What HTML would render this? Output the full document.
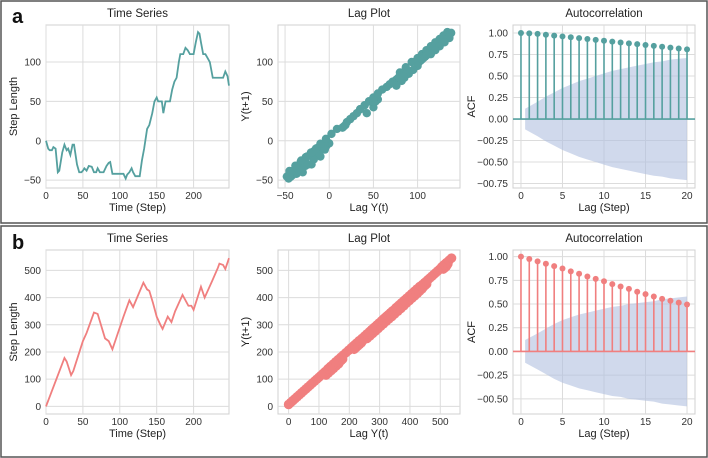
<!DOCTYPE html>
<html><head><meta charset="utf-8"><style>
body{margin:0;background:#fff}
svg{display:block;font-family:"Liberation Sans",sans-serif}
</style></head><body>
<svg id="c" width="708" height="458" viewBox="0 0 708 458"></svg>
<script>
// ---- data ----
const tsA_steps=[0,3,5,8,10,13,16,18,22,25,28,30,33,36,38,42,45,48,50,52,55,58,62,65,68,70,73,78,82,85,87,90,100,105,108,110,113,116,118,121,127,130,133,137,140,144,147,150,152,157,159,162,168,171,174,177,180,182,186,189,192,195,200,203,206,208,210,213,216,219,222,224,226,240,243,246,248];
const tsA_vals=[0,-10,-12,-12,-8,-10,-40,-38,-15,-5,-12,-10,-18,-5,-5,-30,-40,-40,-38,-35,-38,-32,-33,-40,-40,-35,-40,-40,-32,-28,-27,-42,-42,-42,-48,-43,-40,-35,-40,-45,-45,-25,-10,15,20,35,50,55,50,50,35,50,50,65,75,80,100,110,110,118,115,110,110,125,138,136,125,110,110,105,100,90,80,80,88,82,70];
const tsB_steps=[0,25,28,34,37,50,55,65,70,80,85,90,95,105,113,118,125,132,137,140,145,150,155,158,165,170,175,185,190,193,197,200,210,215,225,233,235,240,243,248];
const tsB_vals=[0,178,165,115,130,240,270,345,340,250,240,210,250,330,390,365,410,455,430,425,380,330,300,285,330,310,350,410,385,370,370,355,440,400,460,510,525,520,505,545];
const acfA=[1,0.995,0.99,0.98,0.97,0.96,0.95,0.94,0.93,0.92,0.91,0.90,0.89,0.88,0.87,0.86,0.85,0.84,0.83,0.82,0.81];
const bandA=[0,0.12,0.2,0.26,0.31,0.36,0.4,0.44,0.47,0.5,0.53,0.56,0.58,0.6,0.62,0.64,0.66,0.67,0.69,0.70,0.71];
const acfB=[1,0.975,0.95,0.925,0.9,0.875,0.845,0.82,0.79,0.765,0.74,0.71,0.685,0.66,0.63,0.605,0.58,0.555,0.535,0.515,0.495];
const bandB=[0,0.12,0.19,0.24,0.29,0.33,0.36,0.39,0.41,0.43,0.45,0.47,0.48,0.5,0.51,0.52,0.53,0.55,0.56,0.57,0.58];
const ticksTsX=[0,50,100,150,200];
const ticksA_Y=[-50,0,50,100];
const ticksLagAX=[-50,0,50,100];
const ticksB_Y=[0,100,200,300,400,500];
const ticksACFX=[0,5,10,15,20];
const ticksACFA=[-0.75,-0.5,-0.25,0,0.25,0.5,0.75,1];
const ticksACFB=[-0.5,-0.25,0,0.25,0.5,0.75,1];

const NS="http://www.w3.org/2000/svg";
const svg=document.getElementById('c');
function el(tag,attrs,parent,text){const e=document.createElementNS(NS,tag);for(const k in attrs)e.setAttribute(k,attrs[k]);if(text!==undefined)e.textContent=text;(parent||svg).appendChild(e);return e;}
function lin(d0,d1,r0,r1){return v=>r0+(v-d0)*(r1-r0)/(d1-d0);}
function interp(steps,vals){const out=[];const n=steps[steps.length-1];let j=0;for(let t=0;t<=n;t++){while(steps[j+1]<t)j++;const f=(t-steps[j])/(steps[j+1]-steps[j]||1);out.push(vals[j]+f*(vals[j+1]-vals[j]));}return out;}
function fmt2(v){return (v<0?'\u22120':'')+Math.abs(v).toFixed(2).replace(/^0/,'0');}

function axes(name,box,x,y,xt,yt,title,xl,yl,yfmt){
  const g=el('g',{},svg);
  
  
  const [L,T,R,B]=box;
  el('rect',{x:L,y:T,width:R-L,height:B-T,fill:'#fff',stroke:'#d0d0d0','stroke-width':1},g);
  xt.forEach(v=>{el('line',{x1:x(v),x2:x(v),y1:T,y2:B,stroke:'#dcdcdc','stroke-width':1},g);
    const t=el('text',{x:x(v),y:B+11,'text-anchor':'middle','font-size':10,fill:'#333'},g,String(v).replace('-','\u2212'));
    });
  yt.forEach(v=>{el('line',{x1:L,x2:R,y1:y(v),y2:y(v),stroke:'#dcdcdc','stroke-width':1},g);
    const t=el('text',{x:L-5,y:y(v)+3.5,'text-anchor':'end','font-size':10,fill:'#333'},g,yfmt?yfmt(v):String(v).replace('-','\u2212'));
    });
  const tt=el('text',{x:(L+R)/2,y:T-8,'text-anchor':'middle','font-size':11.5,fill:'#222'},g,title);
  
  const xlab=el('text',{x:(L+R)/2,y:B+23,'text-anchor':'middle','font-size':11,fill:'#222'},g,xl);
  
  const cy=(T+B)/2;
  const ylab=el('text',{x:0,y:0,'text-anchor':'middle','font-size':11,fill:'#222',transform:`translate(${yfmt?L-38:L-29},${cy}) rotate(-90)`},g,yl);
  
  return g;
}

function row(off,steps,vals,color,yt,lagxt,lagDom,tsDom,acf,band,acft,acfDom,scR){
  const T=25+off, B=188+off+(off?1:0);
  // time series
  const tx=lin(0,248,46,229), ty=lin(tsDom[0],tsDom[1],T,B);
  const g1=axes('time-series-chart',[46,T,229,B],tx,ty,ticksTsX,yt,'Time Series','Time (Step)','Step Length');
  const pl=el('polyline',{points:steps.map((s,i)=>tx(s)+','+ty(vals[i])).join(' '),fill:'none',stroke:color,'stroke-width':1.8},g1);
  
  // lag plot
  const lx=lin(lagDom[0],lagDom[1],278,460), ly=ty;
  const g2=axes('lag-plot-chart',[278,T,460,B],lx,ly,lagxt,yt,'Lag Plot','Lag Y(t)','Y(t+1)');
  const s=interp(steps,vals);
  for(let i=0;i<s.length-1;i++){const c=el('circle',{cx:lx(s[i]),cy:ly(s[i+1]),r:scR,fill:color},g2);
    }
  // acf
  const ax=lin(-0.96,20.96,513,695), ay=lin(acfDom[0],acfDom[1],T,B);
  const g3=axes('autocorrelation-chart',[513,T,695,B],ax,ay,ticksACFX,acft,'Autocorrelation','Lag (Step)','ACF',fmt2);
  let up=[],dn=[];
  for(let k=1;k<band.length;k++){up.push(ax(k-0.5*(k==1))+','+ay(band[k]));dn.unshift(ax(k-0.5*(k==1))+','+ay(-band[k]));}
  const bd=el('polygon',{points:up.concat(dn).join(' '),fill:'#b0c0e0','fill-opacity':0.6},g3);
  
  const z=el('line',{x1:513,x2:695,y1:ay(0),y2:ay(0),stroke:color,'stroke-width':1.6},g3);
  
  acf.forEach((v,k)=>{const st=el('line',{x1:ax(k),x2:ax(k),y1:ay(0),y2:ay(v),stroke:color,'stroke-width':1.6},g3);
    
    const m=el('circle',{cx:ax(k),cy:ay(v),r:3,fill:color},g3);
    });
}
// panel frames
const f1=el('rect',{x:1,y:1,width:706,height:222,fill:'none',stroke:'#555','stroke-width':1.5});

const f2=el('rect',{x:1,y:226,width:706,height:231,fill:'none',stroke:'#555','stroke-width':1.5});

row(0,tsA_steps,tsA_vals,'#55a09f',ticksA_Y,ticksLagAX,[-58,148],[147,-60],acfA,bandA,ticksACFA,[1.093,-0.802],4.2);
row(225,tsB_steps,tsB_vals,'#f07f7f',ticksB_Y,ticksB_Y,[-35,565],[575,-28],acfB,bandB,ticksACFB,[1.07,-0.66],4.8);
const la=el('text',{x:12,y:23,'font-size':20,'font-weight':'bold',fill:'#111'},svg,'a');

const lb=el('text',{x:12,y:249,'font-size':20,'font-weight':'bold',fill:'#111'},svg,'b');

</script>
</body></html>
